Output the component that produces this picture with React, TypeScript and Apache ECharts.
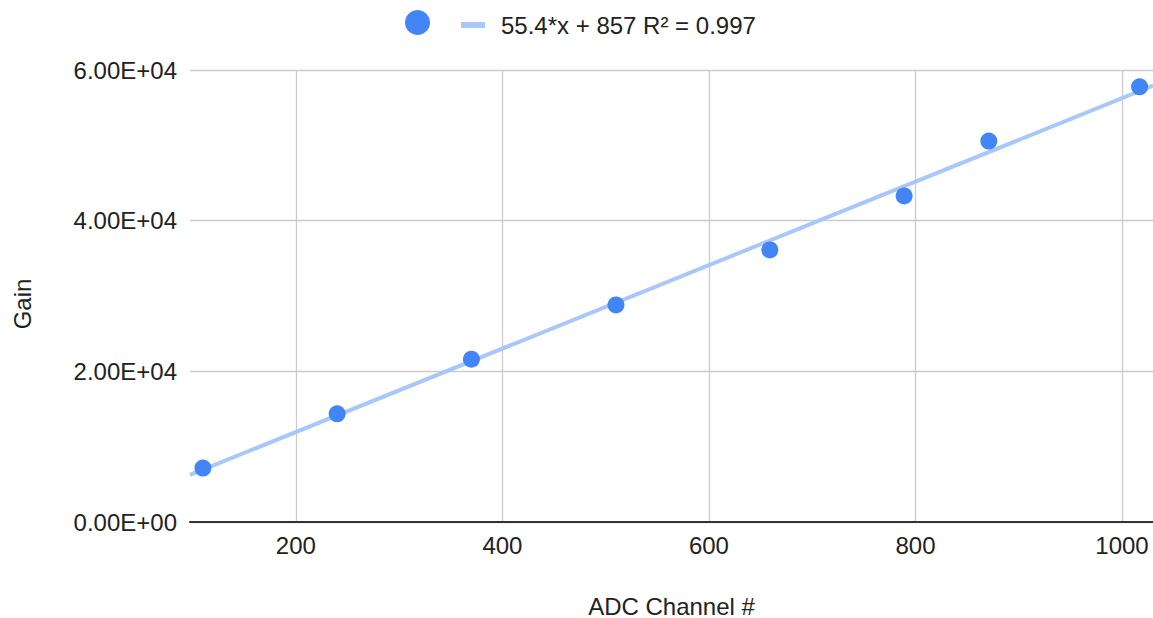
import React, { useEffect, useRef } from "react";
import * as echarts from "echarts";

// ADC channel vs. measured gain
const adcChannel = [110, 240, 370, 510, 659, 789, 871, 1017];
const gain = [7160, 14360, 21620, 28820, 36110, 43280, 50570, 57770];

// Linear fit reported in the legend
const slope = 55.4;
const intercept = 857;
const rSquared = 0.997;

// Axis extents and tick values
const xMin = 97.5;
const xMax = 1030;
const xTicks = [200, 400, 600, 800, 1000];
const yMin = 0;
const yMax = 60000;
const yStep = 20000;

const FONT = "'Liberation Sans', Arial, sans-serif";
const BLUE = "#4285f4";
const TREND = "#a9c7f8";
const INK = "#222222";

const sci = (v: number) => {
  if (v === 0) return "0.00E+00";
  const e = Math.floor(Math.log10(Math.abs(v)));
  const m = v / Math.pow(10, e);
  return `${m.toFixed(2)}E${e < 0 ? "-" : "+"}${String(Math.abs(e)).padStart(2, "0")}`;
};

export default function App() {
  const ref = useRef<HTMLDivElement>(null);

  useEffect(() => {
    if (!ref.current) return;
    const chart = echarts.init(ref.current, undefined, { renderer: "svg" });
    const trendName = `${slope}*x + ${intercept} R² = ${rSquared}`;
    const fit = (x: number) => slope * x + intercept;

    chart.setOption({
      animation: false,
      backgroundColor: "#ffffff",
      textStyle: { fontFamily: FONT },
      grid: {
        left: 190,
        right: 0,
        top: 70,
        bottom: 96,
        containLabel: false,
        outerBoundsMode: "none",
      },
      graphic: [
        {
          type: "text",
          x: 22,
          y: 304,
          rotation: Math.PI / 2,
          style: {
            text: "Gain",
            fontSize: 24,
            fontFamily: FONT,
            fill: INK,
            textAlign: "center",
            textVerticalAlign: "middle",
          },
        },
      ],
      legend: [
        {
          left: 400,
          top: 5,
          data: ["Gain"],
          icon: "circle",
          itemWidth: 25,
          itemHeight: 25,
          formatter: () => "",
          selectedMode: false,
        },
        {
          left: 456,
          top: 8,
          data: [trendName],
          icon: "rect",
          itemWidth: 24,
          itemHeight: 6,
          selectedMode: false,
          textStyle: {
            fontSize: 24,
            color: INK,
            fontFamily: FONT,
            padding: [0, 0, 0, 11],
          },
        },
      ],
      xAxis: {
        type: "value",
        min: xMin,
        max: xMax,
        name: "ADC Channel #",
        nameLocation: "middle",
        nameGap: 72,
        nameTextStyle: { fontSize: 24, color: INK, fontFamily: FONT },
        axisLine: { show: true, lineStyle: { color: "#333333", width: 2 } },
        axisTick: { show: false, customValues: xTicks },
        axisLabel: {
          customValues: xTicks,
          formatter: (v: number) => String(v),
          fontSize: 24,
          color: INK,
          margin: 11,
          fontFamily: FONT,
        },
        splitLine: { show: true, lineStyle: { color: "#cccccc", width: 1.3 } },
      },
      yAxis: {
        type: "value",
        min: yMin,
        max: yMax,
        interval: yStep,
        axisLine: { show: false },
        axisTick: { show: false },
        axisLabel: {
          formatter: sci,
          fontSize: 24,
          color: INK,
          margin: 13,
          fontFamily: FONT,
        },
        splitLine: { show: true, lineStyle: { color: "#cccccc", width: 1.3 } },
      },
      series: [
        {
          name: trendName,
          type: "line",
          data: [
            [xMin, fit(xMin)],
            [xMax, fit(xMax)],
          ],
          symbol: "none",
          lineStyle: { color: TREND, width: 4 },
          itemStyle: { color: TREND },
          silent: true,
          z: 2,
        },
        {
          name: "Gain",
          type: "scatter",
          data: adcChannel.map((x, i) => [x, gain[i]]),
          symbol: "circle",
          symbolSize: 17,
          itemStyle: { color: BLUE, opacity: 1 },
          z: 3,
        },
      ],
    });

    return () => chart.dispose();
  }, []);

  return (
    <div
      ref={ref}
      style={{ position: "absolute", left: 0, top: 0, width: 1153, height: 618 }}
    />
  );
}
